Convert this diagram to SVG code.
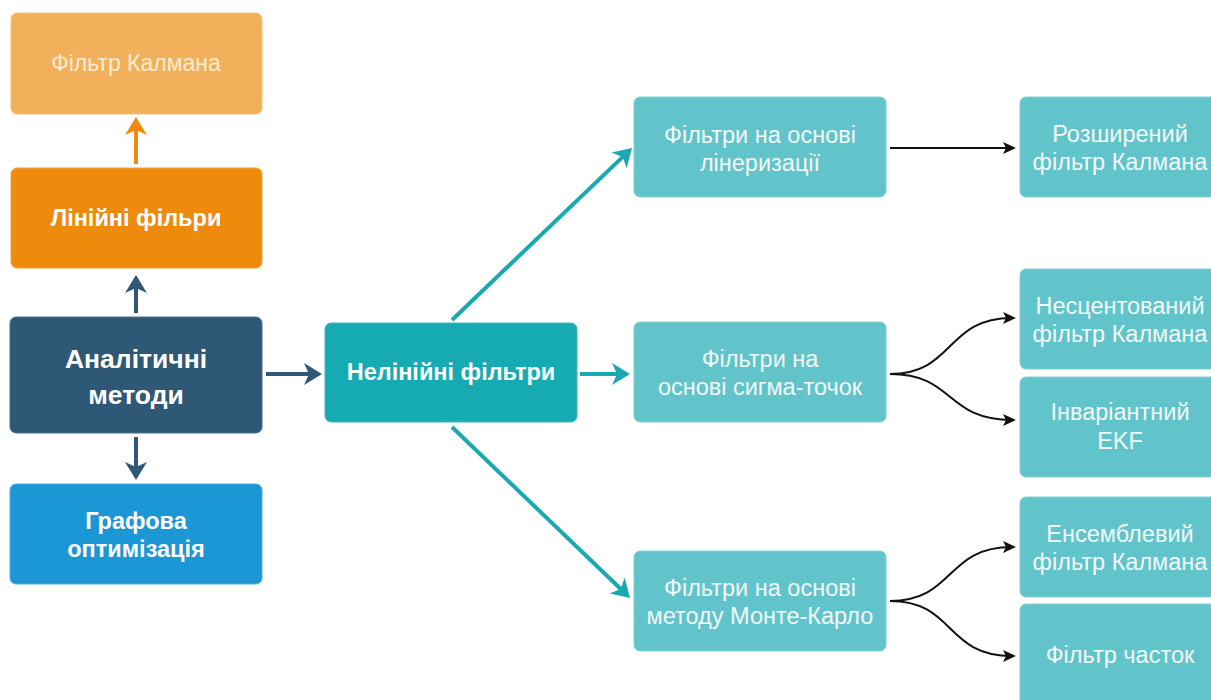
<svg xmlns="http://www.w3.org/2000/svg" width="1211" height="700" viewBox="0 0 1211 700">
<defs>
<style>
.t{font-family:"Liberation Sans",Arial,sans-serif;text-anchor:middle;dominant-baseline:central}
.b{font-weight:bold;fill:#ffffff}
.r{fill:#f2fafa;font-size:23.5px}
.box{stroke-width:1}
.teal{fill:#62c4cb;stroke:#7fd0d5}
</style>
<marker id="mBlue" viewBox="0 0 18 22" markerWidth="18" markerHeight="22" refX="12" refY="11" orient="auto" markerUnits="userSpaceOnUse"><path d="M0,0 L18,11 L0,22 L5,11 z" fill="#2f5877"/></marker>
<marker id="mOrange" viewBox="0 0 18 22" markerWidth="18" markerHeight="22" refX="12" refY="11" orient="auto" markerUnits="userSpaceOnUse"><path d="M0,0 L18,11 L0,22 L5,11 z" fill="#ee8a0c"/></marker>
<marker id="mTeal" viewBox="0 0 18 22" markerWidth="18" markerHeight="22" refX="12" refY="11" orient="auto" markerUnits="userSpaceOnUse"><path d="M0,0 L18,11 L0,22 L5,11 z" fill="#1ba9b1"/></marker>
<marker id="mBlack" viewBox="0 0 13 12" markerWidth="13" markerHeight="12" refX="9" refY="6" orient="auto" markerUnits="userSpaceOnUse"><path d="M0,0 L13,6 L0,12 L3,6 z" fill="#111111"/></marker>
</defs>
<rect width="1211" height="700" fill="#ffffff"/>

<g id="connectors" fill="none">
<line x1="136" y1="164" x2="136" y2="123" stroke="#ee8a0c" stroke-width="4" marker-end="url(#mOrange)"/>
<line x1="136" y1="313" x2="136" y2="281" stroke="#2f5877" stroke-width="4" marker-end="url(#mBlue)"/>
<line x1="136" y1="437" x2="136" y2="474" stroke="#2f5877" stroke-width="4" marker-end="url(#mBlue)"/>
<line x1="266" y1="374" x2="316" y2="374" stroke="#2f5877" stroke-width="4" marker-end="url(#mBlue)"/>
<line x1="580" y1="374" x2="624" y2="374" stroke="#1ba9b1" stroke-width="4" marker-end="url(#mTeal)"/>
<line x1="452" y1="320" x2="627.7" y2="152.1" stroke="#1ba9b1" stroke-width="4" marker-end="url(#mTeal)"/>
<line x1="452" y1="427" x2="625.7" y2="593.8" stroke="#1ba9b1" stroke-width="4" marker-end="url(#mTeal)"/>
<g stroke="#111111" stroke-width="2">
<line x1="890" y1="148" x2="1012" y2="148" marker-end="url(#mBlack)"/>
<path d="M890,374 C955,374 945,318 1012,318" marker-end="url(#mBlack)"/>
<path d="M890,374 C955,374 945,420 1012,420" marker-end="url(#mBlack)"/>
<path d="M890,601 C955,601 945,547 1012,547" marker-end="url(#mBlack)"/>
<path d="M890,601 C955,601 945,656 1012,656" marker-end="url(#mBlack)"/>
</g>
</g>

<g id="kalman">
<rect class="box" x="11" y="13" width="251" height="101" rx="6" fill="#f3b05a" stroke="#f6c07a"/>
<text class="t" x="136" y="63" font-size="23" fill="#fdebd2">Фільтр Калмана</text>
</g>
<g id="linear">
<rect class="box" x="11" y="168" width="251" height="100" rx="6" fill="#ee8a0c" stroke="#f2a040"/>
<text class="t b" x="136" y="218" font-size="23.5">Лінійні фільри</text>
</g>
<g id="analytic">
<rect class="box" x="10" y="317" width="252" height="116" rx="6" fill="#2f5877" stroke="#4a6f8b"/>
<text class="t b" x="136" y="359" font-size="26.5">Аналітичні</text>
<text class="t b" x="136" y="395" font-size="26.5">методи</text>
</g>
<g id="graph">
<rect class="box" x="10" y="484" width="252" height="100" rx="6" fill="#1a97d4" stroke="#4aaee0"/>
<text class="t b" x="136" y="521" font-size="23.5">Графова</text>
<text class="t b" x="136" y="549" font-size="23.5">оптимізація</text>
</g>
<g id="nonlinear">
<rect class="box" x="325" y="323" width="252" height="99" rx="6" fill="#16aab2" stroke="#3fbac1"/>
<text class="t b" x="451" y="372" font-size="23.5">Нелінійні фільтри</text>
</g>
<g id="linearization">
<rect class="box teal" x="634" y="97" width="252" height="100" rx="6"/>
<text class="t r" x="760" y="135">Фільтри на основі</text>
<text class="t r" x="760" y="163">лінеризації</text>
</g>
<g id="sigma">
<rect class="box teal" x="634" y="322" width="252" height="100" rx="6"/>
<text class="t r" x="760" y="359">Фільтри на</text>
<text class="t r" x="760" y="387">основі сигма-точок</text>
</g>
<g id="montecarlo">
<rect class="box teal" x="634" y="551" width="252" height="100" rx="6"/>
<text class="t r" x="760" y="588">Фільтри на основі</text>
<text class="t r" x="760" y="616">методу Монте-Карло</text>
</g>
<g id="ekf">
<rect class="box teal" x="1020" y="97" width="220" height="100" rx="6"/>
<text class="t r" x="1120" y="134">Розширений</text>
<text class="t r" x="1120" y="162">фільтр Калмана</text>
</g>
<g id="ukf">
<rect class="box teal" x="1020" y="269" width="220" height="100" rx="6"/>
<text class="t r" x="1120" y="306">Несцентований</text>
<text class="t r" x="1120" y="334">фільтр Калмана</text>
</g>
<g id="iekf">
<rect class="box teal" x="1020" y="377" width="220" height="100" rx="6"/>
<text class="t r" x="1120" y="412">Інваріантний</text>
<text class="t r" x="1120" y="441">EKF</text>
</g>
<g id="enkf">
<rect class="box teal" x="1020" y="497" width="220" height="100" rx="6"/>
<text class="t r" x="1120" y="534">Енсемблевий</text>
<text class="t r" x="1120" y="562">фільтр Калмана</text>
</g>
<g id="particle">
<rect class="box teal" x="1020" y="604" width="220" height="110" rx="6"/>
<text class="t r" x="1120" y="655">Фільтр часток</text>
</g>
</svg>
